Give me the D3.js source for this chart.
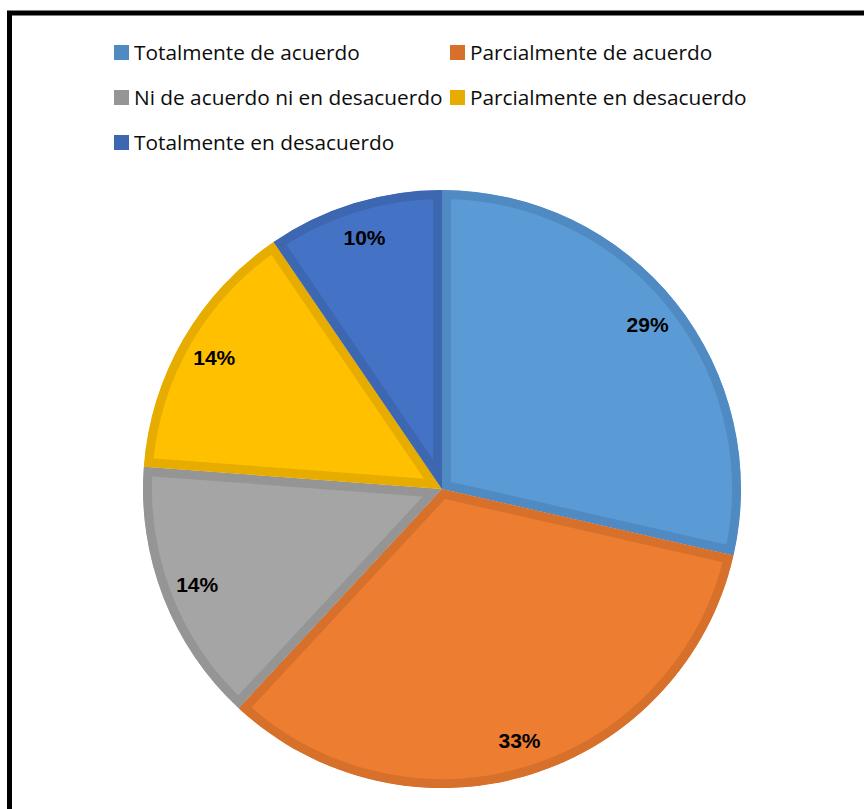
<!DOCTYPE html>
<html>
<head>
<meta charset="utf-8">
<script src="https://cdn.jsdelivr.net/npm/d3@7"></script>
<style>
  html, body { margin: 0; padding: 0; background: #fff; }
  svg { display: block; }
</style>
</head>
<body>
<div id="chart"></div>
<script>
(function () {
"use strict";

/* data (answers out of 21) */
var categories = [
        "Totalmente de acuerdo",
        "Parcialmente de acuerdo",
        "Ni de acuerdo ni en desacuerdo",
        "Parcialmente en desacuerdo",
        "Totalmente en desacuerdo"
    ],
    responses = [6, 7, 3, 3, 2],
    fills   = ["#5b9bd5", "#ed7d31", "#a5a5a5", "#ffc000", "#4472c4"],
    borders = ["#4f8bc2", "#d6702b", "#959595", "#e6ac00", "#3e67b1"];

var W = 864, H = 809,
    cx = 442, cy = 489, R = 299,
    border = 9,
    labelR = 263;

var svg = d3.select("#chart").append("svg")
    .attr("width", W).attr("height", H);

/* frame (right and bottom edges run off the picture) */
svg.append("rect")
    .attr("x", 9.5).attr("y", 13)
    .attr("width", 1000).attr("height", 1000)
    .attr("fill", "none")
    .attr("stroke", "#000")
    .attr("stroke-width", 5);

var total = d3.sum(responses),
    pct = d3.format(".0%"),
    pie = d3.pie().sort(null).value(function (d) { return d; }),
    arc = d3.arc().innerRadius(0).outerRadius(R),
    labelArc = d3.arc().innerRadius(labelR).outerRadius(labelR),
    arcs = pie(responses);

var g = svg.append("g").attr("transform", "translate(" + cx + "," + cy + ")"),
    defs = svg.append("defs");

/* each slice gets an inner border: stroke twice as wide, clipped to the slice */
arcs.forEach(function (a, i) {
    defs.append("clipPath").attr("id", "clip" + i)
        .append("path").attr("d", arc(a));
});

g.selectAll("path.slice")
    .data(arcs)
    .enter().append("path")
    .attr("class", "slice")
    .attr("d", arc)
    .attr("clip-path", function (d, i) { return "url(#clip" + i + ")"; })
    .attr("fill", function (d, i) { return fills[i]; })
    .attr("stroke", function (d, i) { return borders[i]; })
    .attr("stroke-width", border * 2)
    .attr("stroke-linejoin", "miter");

g.selectAll("text.pct")
    .data(arcs)
    .enter().append("text")
    .attr("class", "pct")
    .attr("transform", function (d) { return "translate(" + labelArc.centroid(d) + ")"; })
    .attr("text-anchor", "middle")
    .attr("dy", "0.35em")
    .style("font-family", "'Liberation Sans', Arial, sans-serif")
    .style("font-weight", "bold")
    .style("font-size", "21px")
    .attr("fill", "#000")
    .text(function (d) { return pct(d.value / total); });

/* legend: two columns, three rows */
var colX = [114, 450], rowY = [45, 90, 135];

var items = svg.append("g").selectAll("g.item")
    .data(categories)
    .enter().append("g")
    .attr("class", "item")
    .attr("transform", function (d, i) {
        return "translate(" + colX[i % 2] + "," + rowY[Math.floor(i / 2)] + ")";
    });

items.append("rect")
    .attr("width", 15).attr("height", 15)
    .attr("fill", function (d, i) { return borders[i]; });

items.append("text")
    .attr("x", 20).attr("y", 7.5)
    .attr("dy", "0.35em")
    .style("font-family", "'Open Sans', sans-serif")
    .style("font-size", "20.8px")
    .attr("fill", "#0d0d0d")
    .text(function (d) { return d; });

})();
</script>
</body>
</html>
